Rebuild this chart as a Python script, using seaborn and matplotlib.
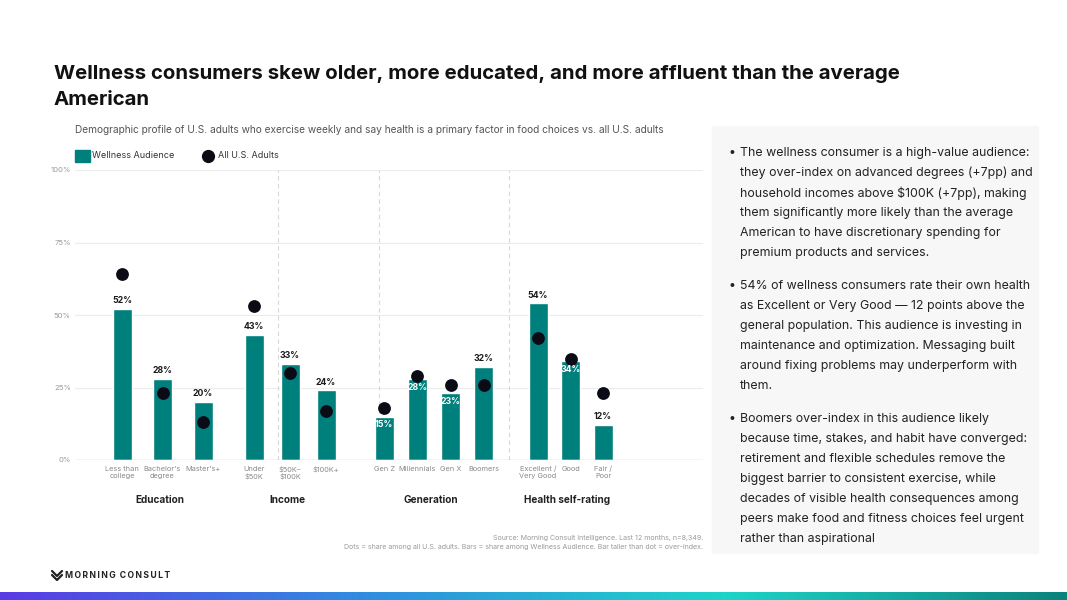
import numpy as np
import pandas as pd
import seaborn as sns
import matplotlib.pyplot as plt
from matplotlib.patches import Rectangle
from matplotlib.lines import Line2D
from matplotlib.colors import LinearSegmentedColormap

# ---- data ----
categories = ["Less than\ncollege", "Bachelor's\ndegree", "Master's+",
              "Under\n\\$50K", "\\$50K–\n\\$100K", "\\$100K+",
              "Gen Z", "Millennials", "Gen X", "Boomers",
              "Excellent /\nVery Good", "Good", "Fair /\nPoor"]
groups = ["Education", "Income", "Generation", "Health self-rating"]
group_sizes = [3, 3, 4, 3]
wellness = [52, 28, 20, 43, 33, 24, 15, 28, 23, 32, 54, 34, 12]
all_adults = [64, 23, 13, 53, 30, 17, 18, 29, 26, 26, 42, 35, 23]

title_lines = ["Wellness consumers skew older, more educated, and more affluent than the average",
               "American"]
subtitle = ("Demographic profile of U.S. adults who exercise weekly and say health is a "
            "primary factor in food choices vs. all U.S. adults")
source_lines = ["Source: Morning Consult Intelligence. Last 12 months, n=8,349.",
                "Dots = share among all U.S. adults. Bars = share among Wellness Audience. "
                "Bar taller than dot = over-index."]
bullets = [
    ["The wellness consumer is a high-value audience:",
     "they over-index on advanced degrees (+7pp) and",
     "household incomes above \\$100K (+7pp), making",
     "them significantly more likely than the average",
     "American to have discretionary spending for",
     "premium products and services."],
    ["54% of wellness consumers rate their own health",
     "as Excellent or Very Good — 12 points above the",
     "general population. This audience is investing in",
     "maintenance and optimization. Messaging built",
     "around fixing problems may underperform with",
     "them."],
    ["Boomers over-index in this audience likely",
     "because time, stakes, and habit have converged:",
     "retirement and flexible schedules remove the",
     "biggest barrier to consistent exercise, while",
     "decades of visible health consequences among",
     "peers make food and fitness choices feel urgent",
     "rather than aspirational"],
]

# ---- layout (pixel-like x units) ----
W, H = 1067, 600
group_start = [122, 254, 384, 538]
group_step = [40.5, 36, 33.3, 32.5]
separators = [278, 379, 509]
bar_w = 19
TEAL = "#00807c"
DOT = "#0b0b16"

xpos = []
grp_of = []
for g, (s, st, n) in enumerate(zip(group_start, group_step, group_sizes)):
    for i in range(n):
        xpos.append(s + i * st)
        grp_of.append(groups[g])

df = pd.DataFrame({"x": xpos, "category": categories, "group": grp_of,
                   "wellness": wellness, "all": all_adults})

sns.set_theme(style="white")
plt.rcParams["font.family"] = ["Inter", "DejaVu Sans"]

fig = plt.figure(figsize=(W / 100, H / 100), dpi=100)


def fx(px):
    return px / W


def fy(py):
    return 1 - py / H


ax = fig.add_axes([fx(75), fy(460), fx(703 - 75), (460 - 170) / H])
ax.set_xlim(75, 703)
ax.set_ylim(0, 100)

min_gap = np.diff(np.unique(df["x"])).min()
sns.barplot(data=df, x="x", y="wellness", native_scale=True, color=TEAL,
            width=bar_w / min_gap, saturation=1, ax=ax, zorder=3)
sns.scatterplot(data=df, x="x", y="all", color=DOT, s=85, edgecolor=DOT,
                linewidth=0, ax=ax, zorder=5)

for yv in [25, 50, 75, 100]:
    ax.axhline(yv, color="#ececec", lw=0.8, zorder=0)
ax.axhline(0, color="#c8c8c8", lw=1, zorder=4)
for sx in separators:
    ax.axvline(sx, color="#d8d8d8", lw=0.8, ls=(0, (4, 3)), zorder=1)

for _, r in df.iterrows():
    gap = r["all"] - r["wellness"]
    if 0 < gap <= 5:
        ax.annotate(f"{r['wellness']}%", (r["x"], r["wellness"]), xytext=(0, -6),
                    textcoords="offset points", ha="center", va="center",
                    fontsize=6.3, fontweight="bold", color="white", zorder=6)
    else:
        ax.annotate(f"{r['wellness']}%", (r["x"], r["wellness"]), xytext=(0, 6),
                    textcoords="offset points", ha="center", va="center",
                    fontsize=6.3, fontweight="bold", color="#1a1a1a", zorder=6)

ax.set_xticks(df["x"])
ax.set_xticklabels(df["category"], fontsize=5.3, color="#8a8a8a")
ax.set_yticks([0, 25, 50, 75, 100])
ax.set_yticklabels(["0%", "25%", "50%", "75%", "100%"], fontsize=5.5, color="#9a9a9a")
ax.tick_params(axis="both", length=0)
ax.tick_params(axis="x", pad=4)
ax.tick_params(axis="y", pad=3)
ax.set_xlabel("")
ax.set_ylabel("")
for sp in ax.spines.values():
    sp.set_visible(False)

for g in groups:
    gx = df.loc[df["group"] == g, "x"]
    fig.text(fx((gx.min() + gx.max()) / 2 - 3), fy(500), g, ha="center", va="center",
             fontsize=7.2, fontweight="bold", color="#222222")

# ---- titles ----
for i, line in enumerate(title_lines):
    fig.text(fx(54), fy(79 + 26 * i), line, ha="left", va="baseline", fontsize=14.7,
             fontweight="bold", color="#111111")
fig.text(fx(75), fy(130), subtitle, ha="left", va="center", fontsize=7.3, color="#555555")

# legend
fig.patches.append(Rectangle((fx(75), fy(162)), fx(15), 12 / H, transform=fig.transFigure,
                             color=TEAL, figure=fig))
fig.text(fx(92), fy(156), "Wellness Audience", ha="left", va="center", fontsize=6.5,
         color="#333333")
fig.lines.append(Line2D([fx(208)], [fy(156)], marker="o", markersize=8.5, color=DOT,
                        transform=fig.transFigure, figure=fig))
fig.text(fx(218), fy(156), "All U.S. Adults", ha="left", va="center", fontsize=6.5,
         color="#333333")

# source
fig.text(fx(703), fy(538), source_lines[0], ha="right", va="center", fontsize=5.1,
         color="#9a9a9a")
fig.text(fx(703), fy(547), source_lines[1], ha="right", va="center", fontsize=5.1,
         color="#9a9a9a")

# ---- right panel ----
fig.patches.append(Rectangle((fx(712), fy(553)), fx(1038 - 712), (553 - 126) / H,
                             transform=fig.transFigure, color="#f7f7f7", figure=fig,
                             zorder=0))
y0 = 153
for block in bullets:
    fig.text(fx(729), fy(y0), "•", ha="left", va="center", fontsize=8.9, color="#222222")
    for line in block:
        fig.text(fx(740), fy(y0), line, ha="left", va="center", fontsize=8.9,
                 color="#222222")
        y0 += 20
    y0 += 13

# ---- logo ----
fig.lines.append(Line2D([fx(52), fx(57), fx(62)], [fy(571), fy(576), fy(571)],
                        color="#222222", lw=1.6, transform=fig.transFigure, figure=fig))
fig.lines.append(Line2D([fx(52), fx(57), fx(62)], [fy(575), fy(580), fy(575)],
                        color="#222222", lw=1.6, transform=fig.transFigure, figure=fig))
fig.text(fx(65), fy(575.5), "M\u2009O\u2009R\u2009N\u2009I\u2009N\u2009G  C\u2009O\u2009N\u2009S\u2009U\u2009L\u2009T",
         ha="left", va="center", fontsize=6.2, fontweight="bold", color="#222222")

# ---- bottom gradient bar ----
gax = fig.add_axes([0, 0, 1, 8 / H])
grad = np.linspace(0, 1, 512)
cmap = LinearSegmentedColormap.from_list("mc", [(0, "#5a3be6"), (0.35, "#2f8fe0"),
                                               (0.68, "#1ed4c8"), (1, "#0b827c")])
gax.imshow(grad[None, :], aspect="auto", cmap=cmap, extent=[0, 1, 0, 1])
gax.axis("off")

fig.savefig("out.png", dpi=100)
